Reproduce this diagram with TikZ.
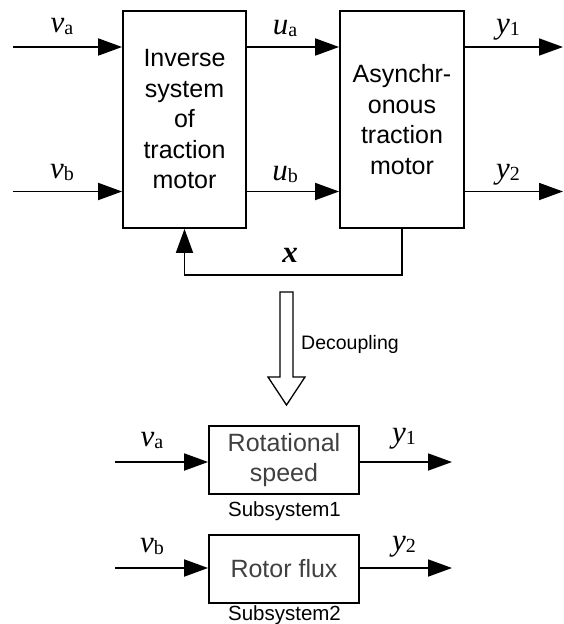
\documentclass[tikz,border=0pt]{standalone}
\usepackage{fontspec}
\setmainfont{Liberation Serif}
\setsansfont{Liberation Sans}
\usetikzlibrary{arrows.meta, calc}
\definecolor{boxtext}{HTML}{404040}
\newcommand{\sig}[2]{\textit{#1}\raisebox{-2pt}{\fontsize{20}{20}\selectfont #2}}
\tikzset{
  blk/.style={rectangle, draw, line width=1.8pt, inner sep=0pt, align=center,
              font=\sffamily\fontsize{25}{30.5}\selectfont},
  subblk/.style={blk, minimum width=150pt, minimum height=68pt, text=boxtext},
  sigline/.style={-{Triangle[length=24pt,width=17pt]}, line width=1.8pt},
  siglab/.style={anchor=base, inner sep=0pt, font=\fontsize{31}{31}\selectfont},
  sublab/.style={anchor=base, inner sep=0pt, font=\sffamily\fontsize{20.5}{20.5}\selectfont},
  hollow/.style={draw, line width=1.3pt, fill=white},
}
\begin{document}
\begin{tikzpicture}[x=1pt, y=-1pt]
  \useasboundingbox (0,0) rectangle (563,624);

  % --- top: inverse system in series with the motor ---
  \node[blk, minimum width=123pt, minimum height=217pt] (inv) at (184.5,119.5)
       {Inverse\\system\\of\\traction\\motor};
  \node[blk, minimum width=124pt, minimum height=217pt] (asm) at (402,119.5)
       {Asynchr-\\onous\\traction\\motor};

  \coordinate (vain) at (13,47);
  \coordinate (vbin) at (13,191.5);
  \coordinate (yaout) at (563,47);
  \coordinate (ybout) at (563,191.5);

  \draw[sigline] (vain) -- (vain -| inv.west);
  \draw[sigline] (vbin) -- (vbin -| inv.west);
  \draw[sigline] (inv.east |- vain) -- (asm.west |- vain);
  \draw[sigline] (inv.east |- vbin) -- (asm.west |- vbin);
  \draw[sigline] (asm.east |- vain) -- (yaout);
  \draw[sigline] (asm.east |- vbin) -- (ybout);
  \draw[sigline] (asm.south) -- ++(0,46) -| (inv.south);

  \node[siglab] (lva) at (62,32) {\sig{v}{a}};
  \node[siglab] (lua) at (285,34) {\sig{u}{a}};
  \node[siglab] (ly1) at (508,33) {\sig{y}{1}};
  \node[siglab] (lvb) at (62,178) {\sig{v}{b}};
  \node[siglab] (lub) at (285,180) {\sig{u}{b}};
  \node[siglab] (ly2) at (508,178) {\sig{y}{2}};
  \node[siglab] (lx) at (290,262) {\textbf{\textit{x}}};

  % --- decoupling arrow ---
  \draw[hollow] (280,292) -- (293,292) -- (293,377) -- (305,377) -- (286.5,405)
                -- (268,377) -- (280,377) -- cycle;
  \node[anchor=base west, inner sep=0pt, font=\sffamily\fontsize{19.5}{19.5}\selectfont]
       (dec) at (301,349) {Decoupling};

  % --- bottom: the two decoupled subsystems ---
  \node[subblk] (rot) at (284,460) {Rotational\\speed};
  \node[subblk] (flux) at (284,569) {Rotor flux};
  \node[sublab] (sub1) at (284.5,516) {Subsystem1};
  \node[sublab] (sub2) at (284.5,620) {Subsystem2};

  \coordinate (sain) at (115,462);
  \coordinate (sbin) at (115,568);
  \coordinate (saout) at (452,462);
  \coordinate (sbout) at (452,568);

  \draw[sigline] (sain) -- (sain -| rot.west);
  \draw[sigline] (rot.east |- sain) -- (saout);
  \draw[sigline] (sbin) -- (sbin -| flux.west);
  \draw[sigline] (flux.east |- sbin) -- (sbout);

  \node[siglab] (lsva) at (152,446) {\sig{v}{a}};
  \node[siglab] (lsy1) at (404,442) {\sig{y}{1}};
  \node[siglab] (lsvb) at (152,552) {\sig{v}{b}};
  \node[siglab] (lsy2) at (404,550) {\sig{y}{2}};
\end{tikzpicture}
\end{document}
